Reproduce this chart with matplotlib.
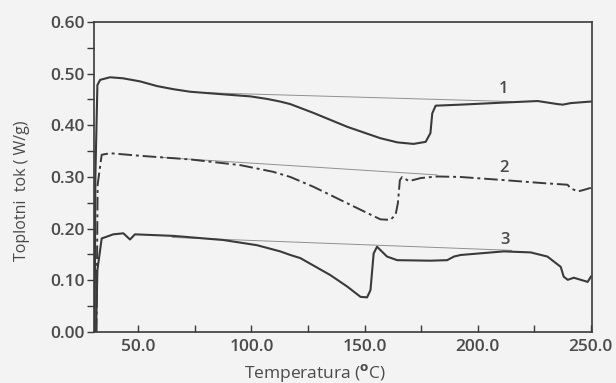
import matplotlib
matplotlib.use('Agg')
import matplotlib.pyplot as plt

# temperatura (°C) i toplotni tok (W/g), ocitano sa slike
t1 = [30.7, 31.0, 31.9, 33.1, 37.5, 43.2, 50.8, 58.2, 65.4, 72.9, 87.5, 99.5, 107, 112.7, 117.2,
      127.4, 142.4, 157, 164.5, 171.6, 177, 179.1, 179.9, 181.4, 192.4, 211.5, 226.5, 235.4,
      237.6, 241.1, 250]
q1 = [0.0, 0.30, 0.478, 0.488, 0.493, 0.491, 0.485, 0.476, 0.470, 0.465, 0.460, 0.456, 0.451,
      0.446, 0.441, 0.424, 0.397, 0.375, 0.367, 0.364, 0.368, 0.385, 0.423, 0.438, 0.440,
      0.444, 0.447, 0.441, 0.440, 0.443, 0.446]

t2 = [31.5, 32.0, 33.8, 37.5, 50.8, 72.9, 95, 109.6, 117.2, 127.4, 142.4, 151.3, 157, 161.4,
      163.7, 164.7, 165.6, 166.6, 169.6, 174.9, 182.2, 192.4, 211.5, 229.2, 239.7, 241.1,
      244.3, 246.9, 250]
q2 = [0.0, 0.285, 0.343, 0.346, 0.341, 0.334, 0.323, 0.310, 0.300, 0.281, 0.249, 0.230, 0.218,
      0.217, 0.227, 0.249, 0.294, 0.300, 0.292, 0.298, 0.301, 0.300, 0.294, 0.288, 0.285,
      0.278, 0.272, 0.275, 0.279]

t3 = [31.3, 31.9, 33.8, 38.9, 43.4, 46.3, 48.5, 65.5, 87.6, 102.4, 112.7, 117.2, 121.6, 134.9,
      142.3, 148.2, 151.1, 152.6, 154.0, 155.5, 159.9, 164.4, 179.1, 186.5, 189.5, 192.4,
      211.5, 223.4, 230.8, 236.7, 238, 239.8, 242.5, 245.5, 248.6, 250]
q3 = [0.0, 0.12, 0.181, 0.189, 0.191, 0.179, 0.189, 0.186, 0.178, 0.168, 0.156, 0.149, 0.143,
      0.110, 0.088, 0.068, 0.067, 0.081, 0.152, 0.165, 0.146, 0.139, 0.138, 0.139, 0.146,
      0.149, 0.156, 0.154, 0.146, 0.126, 0.107, 0.101, 0.105, 0.101, 0.097, 0.107]

# bazne linije (tanke)
b1_t = [80, 215]
b1_q = [0.463, 0.446]
b2_t = [60, 182]
b2_q = [0.338, 0.304]
b3_t = [65, 215]
b3_q = [0.183, 0.158]

labels = ['1', '2', '3']
label_t = [211.5, 211.5, 212]
label_q = [0.455, 0.302, 0.162]

xticks = [50.0, 100.0, 150.0, 200.0, 250.0]
yticks = [0.0, 0.1, 0.2, 0.3, 0.4, 0.5, 0.6]

plt.rcParams['font.family'] = ['Open Sans', 'DejaVu Sans']
plt.rcParams['font.weight'] = 'semibold'
bg = '#f3f3f3'
ink = '#3a3a3a'
txt = '#4a4a4a'

fig = plt.figure(figsize=(6.16, 3.83), dpi=100, facecolor=bg)
ax = fig.add_axes([0.1526, 0.1332, 0.8084, 0.8094], facecolor=bg)

ax.plot(b1_t, b1_q, color='#909090', lw=0.7)
ax.plot(b2_t, b2_q, color='#909090', lw=0.7)
ax.plot(b3_t, b3_q, color='#909090', lw=0.7)

ax.plot(t1, q1, color=ink, lw=1.5)
ax.plot(t2, q2, color=ink, lw=1.4, dashes=(7, 2, 1.5, 2))
ax.plot(t3, q3, color=ink, lw=1.5)

for lab, tx, qy in zip(labels, label_t, label_q):
    ax.text(tx, qy, lab, ha='center', va='bottom', fontsize=12, color=txt)

ax.set_xlim(30.4, 250.5)
ax.set_ylim(0, 0.6)
ax.set_xticks(xticks)
ax.set_xticklabels(['%.1f' % v for v in xticks])
ax.set_xticks([75, 125, 175, 225], minor=True)
ax.set_yticks(yticks)
ax.set_yticklabels(['%.2f' % v for v in yticks])
ax.set_yticks([0.05, 0.15, 0.25, 0.35, 0.45, 0.55], minor=True)

ax.tick_params(axis='x', which='both', direction='in', length=5, width=1, colors=ink,
               labelcolor=txt, labelsize=12.5, pad=5)
ax.tick_params(axis='y', which='both', direction='out', length=5, width=1, colors=ink,
               labelcolor=txt, labelsize=12.5, pad=2)
for s in ax.spines.values():
    s.set_color(ink)
    s.set_linewidth(1.2)

ax.set_xlabel('Temperatura ($^{\\rm o}$C)', fontsize=12.5, color=txt, va='center')
ax.xaxis.set_label_coords(0.445, -0.133)
ax.set_ylabel('Toplotni  tok ( W/g)', fontsize=11.5, color=txt, va='center')
ax.yaxis.set_label_coords(-0.145, 0.455)

fig.savefig('out.png', dpi=100, facecolor=bg)
